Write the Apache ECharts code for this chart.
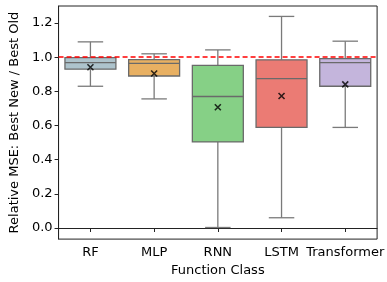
<!DOCTYPE html>
<html>
<head>
<meta charset="utf-8">
<script src="https://cdn.jsdelivr.net/npm/echarts@6/dist/echarts.min.js"></script>
<style>
  html, body { margin: 0; padding: 0; background: #fff; }
  #chart { width: 387px; height: 282px; }
</style>
</head>
<body>
<div id="chart"></div>
<script>
// categories and box stats
var categories = ['RF', 'MLP', 'RNN', 'LSTM', 'Transformer'];
var whiskerLow  = [0.830, 0.756, 0.003, 0.060, 0.589];
var q1Values    = [0.930, 0.890, 0.504, 0.589, 0.830];
var medians     = [0.968, 0.964, 0.770, 0.875, 0.968];
var q3Values    = [0.998, 0.986, 0.952, 0.985, 0.992];
var whiskerHigh = [1.090, 1.020, 1.043, 1.239, 1.094];
var means       = [0.941, 0.905, 0.707, 0.773, 0.841];
var boxColors   = ['#adc3cc', '#e8b062', '#86d086', '#eb7b74', '#c4b5dc'];
var yTicks      = [0, 0.2, 0.4, 0.6, 0.8, 1.0, 1.2];
var refLine     = 1.0;

var font = 'DejaVu Sans';

var boxData = categories.map(function (c, i) {
    return [i, whiskerLow[i], q1Values[i], medians[i], q3Values[i], whiskerHigh[i]];
});
var meanData = categories.map(function (c, i) {
    return [i, means[i]];
});

function renderBox(params, api) {
    var i = api.value(0);
    var bw = api.size([1, 0])[0] * 0.8;
    var cap = bw / 2;
    var lo = api.coord([i, api.value(1)]);
    var p1 = api.coord([i, api.value(2)]);
    var md = api.coord([i, api.value(3)]);
    var p3 = api.coord([i, api.value(4)]);
    var hi = api.coord([i, api.value(5)]);
    var x = lo[0];
    var edge = '#6a6a6a';
    var wh = '#7a7a7a';
    return {
        type: 'group',
        children: [
            { type: 'line', shape: { x1: x, y1: p3[1], x2: x, y2: hi[1] }, style: { stroke: wh, lineWidth: 1.3 } },
            { type: 'line', shape: { x1: x, y1: p1[1], x2: x, y2: lo[1] }, style: { stroke: wh, lineWidth: 1.3 } },
            { type: 'line', shape: { x1: x - cap / 2, y1: hi[1], x2: x + cap / 2, y2: hi[1] }, style: { stroke: wh, lineWidth: 1.3 } },
            { type: 'line', shape: { x1: x - cap / 2, y1: lo[1], x2: x + cap / 2, y2: lo[1] }, style: { stroke: wh, lineWidth: 1.3 } },
            { type: 'rect', shape: { x: x - bw / 2, y: p3[1], width: bw, height: p1[1] - p3[1] },
              style: { fill: boxColors[i], stroke: edge, lineWidth: 1.3 } },
            { type: 'line', shape: { x1: x - bw / 2, y1: md[1], x2: x + bw / 2, y2: md[1] }, style: { stroke: edge, lineWidth: 1.3 } }
        ]
    };
}

var myChart = echarts.init(document.getElementById('chart'));
var option = {
    backgroundColor: '#fff',
    animation: false,
    grid: {
        left: 57,
        right: 9,
        top: 6,
        bottom: 35,
        show: true,
        borderColor: '#222',
        borderWidth: 1
    },
    xAxis: {
        type: 'category',
        data: categories,
        boundaryGap: true,
        name: 'Function Class',
        nameLocation: 'middle',
        nameGap: 20,
        nameTextStyle: { fontFamily: font, fontSize: 13, color: '#000' },
        axisLine: { show: true, lineStyle: { color: '#222', width: 1 } },
        axisTick: { show: true, alignWithLabel: true, length: 4, lineStyle: { color: '#222' } },
        axisLabel: { fontFamily: font, fontSize: 13, color: '#000', margin: 7, interval: 0 },
        splitLine: { show: false }
    },
    yAxis: {
        type: 'value',
        min: -0.065,
        max: 1.30,
        name: 'Relative MSE: Best New / Best Old',
        nameLocation: 'middle',
        nameGap: 34,
        nameTextStyle: { fontFamily: font, fontSize: 13, color: '#000' },
        axisLine: { show: true, lineStyle: { color: '#222', width: 1 } },
        axisTick: { show: true, length: 4, customValues: yTicks, lineStyle: { color: '#222' } },
        axisLabel: {
            fontFamily: font, fontSize: 13, color: '#000', margin: 6,
            customValues: yTicks,
            formatter: function (v) { return v.toFixed(1); }
        },
        splitLine: { show: false }
    },
    series: [
        {
            type: 'custom',
            renderItem: renderBox,
            data: boxData,
            silent: true,
            z: 2,
            markLine: {
                silent: true,
                symbol: 'none',
                label: { show: false },
                lineStyle: { color: '#ff0000', type: [5, 3], width: 1.5 },
                data: [{ yAxis: refLine }]
            }
        },
        {
            type: 'scatter',
            data: meanData,
            symbol: 'path://M0,0L10,10M10,0L0,10',
            symbolSize: 6,
            itemStyle: { color: 'none', borderColor: '#000', borderWidth: 1.6 },
            silent: true,
            z: 5
        }
    ]
};
myChart.setOption(option);
</script>
</body>
</html>
